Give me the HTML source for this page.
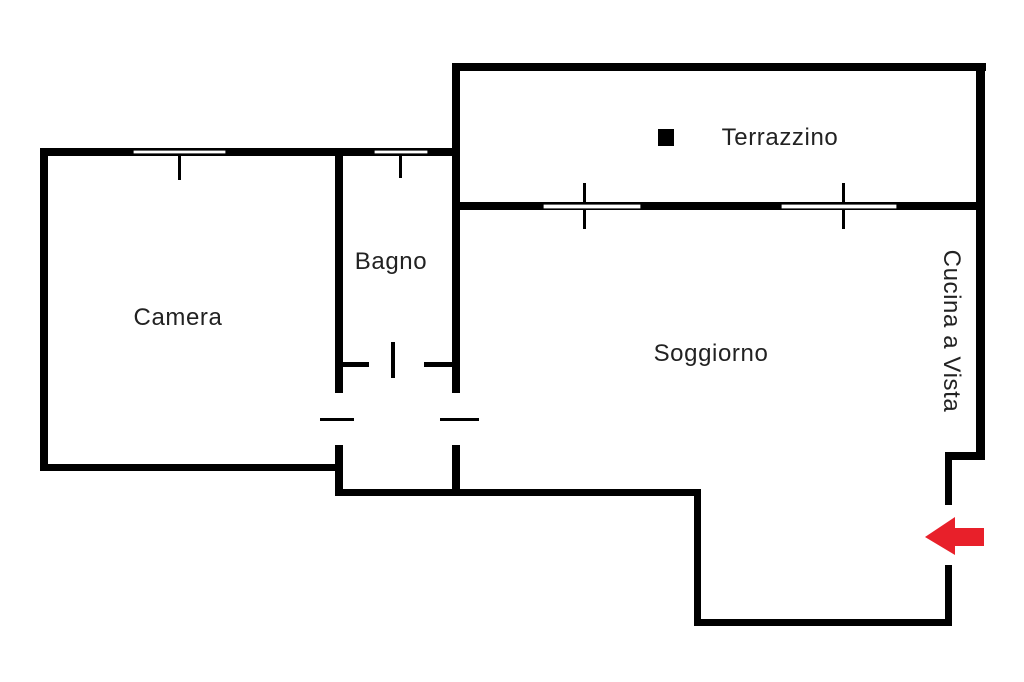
<!DOCTYPE html><html><head><style>body{margin:0;background:#fff}svg{display:block}text{font-family:"Liberation Sans",sans-serif;fill:#222}</style></head><body>
<svg width="1024" height="682" viewBox="0 0 1024 682">
<g fill="#000">
<rect x="40" y="148" width="420" height="8"/>
<rect x="40" y="148" width="8" height="323"/>
<rect x="40" y="464" width="302" height="7"/>
<rect x="335" y="148" width="8" height="245"/>
<rect x="335" y="445" width="8" height="51"/>
<rect x="452" y="63" width="8" height="330"/>
<rect x="452" y="445" width="8" height="51"/>
<rect x="335" y="489" width="366" height="7"/>
<rect x="340" y="362" width="29" height="5"/>
<rect x="424" y="362" width="30" height="5"/>
<rect x="391" y="342" width="4" height="36"/>
<rect x="320" y="418" width="34" height="3"/>
<rect x="440" y="418" width="39" height="3"/>
<rect x="452" y="63" width="534" height="8"/>
<rect x="976" y="63" width="9" height="397"/>
<rect x="452" y="202" width="530" height="8"/>
<rect x="658" y="129" width="16" height="17"/>
<rect x="945" y="452" width="40" height="8"/>
<rect x="945" y="452" width="7" height="53"/>
<rect x="945" y="565" width="7" height="61"/>
<rect x="694" y="619" width="258" height="7"/>
<rect x="694" y="489" width="7" height="137"/>
<rect x="178" y="150" width="3" height="30"/>
<rect x="399" y="150" width="3" height="28"/>
<rect x="583" y="183" width="3" height="46"/>
<rect x="842" y="183" width="3" height="46"/>
</g>
<g fill="#fff" stroke="#000" stroke-width="1.2">
<rect x="133" y="150" width="93" height="4"/>
<rect x="374" y="150" width="54" height="4"/>
<rect x="543" y="204" width="98" height="5"/>
<rect x="781" y="204" width="116" height="5"/>
</g>
<polygon points="925,537 955,517 955,528 984,528 984,546 955,546 955,555" fill="#e8202a"/>
<g font-size="24" letter-spacing="0.6">
<text x="178" y="325" text-anchor="middle">Camera</text>
<text x="391" y="269" text-anchor="middle">Bagno</text>
<text x="711" y="361" text-anchor="middle">Soggiorno</text>
<text x="780" y="145" text-anchor="middle">Terrazzino</text>
<text transform="translate(944,331) rotate(90)" text-anchor="middle">Cucina a Vista</text>
</g>
</svg></body></html>
